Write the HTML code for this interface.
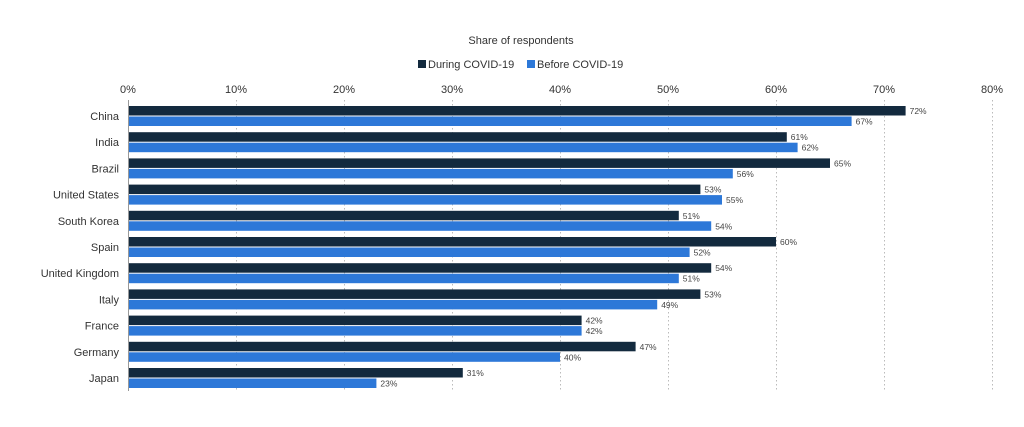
<!DOCTYPE html>
<html><head><meta charset="utf-8"><style>
html,body{margin:0;padding:0;background:#fff;}
svg{display:block;font-family:"Liberation Sans",sans-serif;}
</style></head><body>
<svg width="1024" height="427" viewBox="0 0 1024 427">
<text x="521" y="44" font-size="11" fill="#333" text-anchor="middle">Share of respondents</text>
<rect x="418" y="60" width="8" height="8" fill="#132a3e"/>
<text x="428" y="68" font-size="11" fill="#333">During COVID-19</text>
<rect x="527" y="60" width="8" height="8" fill="#2d78d8"/>
<text x="537" y="68" font-size="11" fill="#333">Before COVID-19</text>
<g font-size="11" fill="#333" text-anchor="middle">
<text x="128" y="93">0%</text><text x="236" y="93">10%</text><text x="344" y="93">20%</text><text x="452" y="93">30%</text><text x="560" y="93">40%</text><text x="668" y="93">50%</text><text x="776" y="93">60%</text><text x="884" y="93">70%</text><text x="992" y="93">80%</text>
</g>
<g stroke="#bbb" stroke-width="1" stroke-dasharray="1.5,2.5">
<line x1="236.5" y1="100" x2="236.5" y2="390"/><line x1="344.5" y1="100" x2="344.5" y2="390"/><line x1="452.5" y1="100" x2="452.5" y2="390"/><line x1="560.5" y1="100" x2="560.5" y2="390"/><line x1="668.5" y1="100" x2="668.5" y2="390"/><line x1="776.5" y1="100" x2="776.5" y2="390"/><line x1="884.5" y1="100" x2="884.5" y2="390"/><line x1="992.5" y1="100" x2="992.5" y2="390"/>
</g>
<g id="bars"></g>
<line x1="128.5" y1="100" x2="128.5" y2="391" stroke="#999" stroke-width="1"/>
</svg>
<script>
var d=[["China",72,67],["India",61,62],["Brazil",65,56],["United States",53,55],["South Korea",51,54],["Spain",60,52],["United Kingdom",54,51],["Italy",53,49],["France",42,42],["Germany",47,40],["Japan",31,23]];
var s="";
d.forEach(function(r,i){var y=106+i*26.2;
var w1=r[1]*10.8,w2=r[2]*10.8;
s+='<rect x="128" y="'+y+'" width="'+w1+'" height="9.5" fill="#132a3e"/>';
s+='<rect x="128" y="'+(y+10.5)+'" width="'+w2+'" height="9.5" fill="#2d78d8"/>';
s+='<text x="'+(132+w1)+'" y="'+(y+8)+'" font-size="8.5" fill="#444">'+r[1]+'%</text>';
s+='<text x="'+(132+w2)+'" y="'+(y+18.5)+'" font-size="8.5" fill="#444">'+r[2]+'%</text>';
s+='<text x="119" y="'+(y+14)+'" font-size="11" fill="#333" text-anchor="end">'+r[0]+'</text>';
});
document.getElementById("bars").innerHTML=s;
</script>
</body></html>
